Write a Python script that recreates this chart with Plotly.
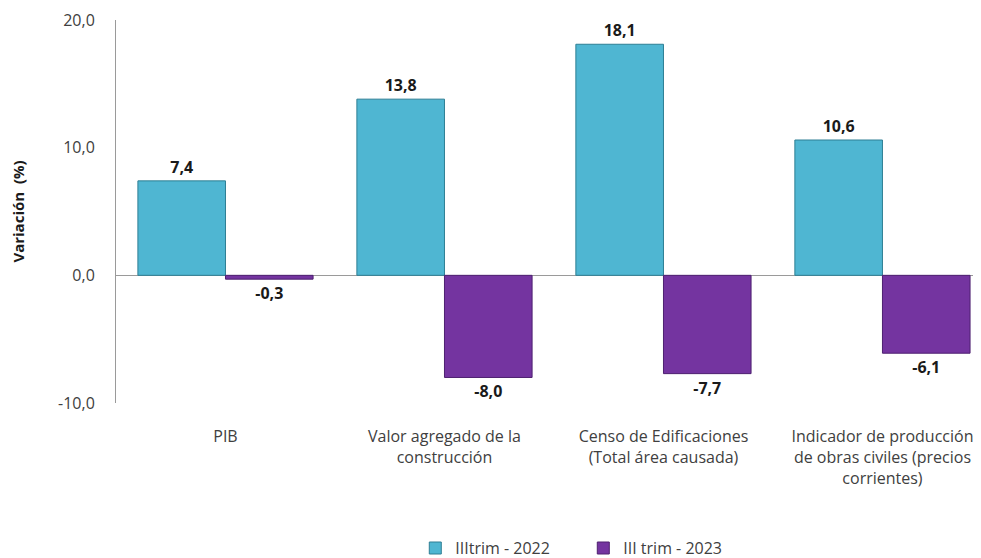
import plotly.graph_objects as go

categories = ["PIB", "Valor agregado de la<br>construcción", "Censo de Edificaciones<br>(Total área causada)",
              "Indicador de producción<br>de obras civiles (precios<br>corrientes)"]
series_names = ["IIItrim - 2022", "III trim - 2023"]
values_2022 = [7.4, 13.8, 18.1, 10.6]
values_2023 = [-0.3, -8.0, -7.7, -6.1]
y_ticks = [-10, 0, 10, 20]
y_tick_text = ["-10,0", "0,0", "10,0", "20,0"]

x = list(range(len(categories)))
font_family = "Open Sans, Noto Sans, sans-serif"

fig = go.Figure()
fig.add_trace(go.Bar(
    x=x, y=values_2022, name=series_names[0],
    marker=dict(color="#4FB6D2", line=dict(color="#2E7F94", width=1)),
    text=[f"{v:.1f}".replace(".", ",") for v in values_2022],
    textposition="outside", cliponaxis=False,
    textfont=dict(family=font_family, size=16, color="#1a1a1a", weight="bold"),
))
fig.add_trace(go.Bar(
    x=x, y=values_2023, name=series_names[1],
    marker=dict(color="#7434A0", line=dict(color="#4E2070", width=1)),
    text=[f"{v:.1f}".replace(".", ",") for v in values_2023],
    textposition="outside", cliponaxis=False,
    textfont=dict(family=font_family, size=16, color="#1a1a1a", weight="bold"),
))

fig.update_layout(
    width=973, height=550,
    margin=dict(l=108, r=0, t=12, b=155),
    paper_bgcolor="white", plot_bgcolor="white",
    barmode="group", bargap=0.2, bargroupgap=0,
    font=dict(family=font_family, size=16, color="#404040"),
    showlegend=True,
    legend=dict(orientation="h", x=0.346, xanchor="left", yref="container", y=0.018, yanchor="middle",
                font=dict(size=16, color="#404040"), itemwidth=30, traceorder="normal",
                entrywidth=123, entrywidthmode="pixels"),
    xaxis=dict(tickmode="array", tickvals=x, ticktext=categories, automargin=False,
               range=[-0.5, 3.45], showgrid=False, showline=False, zeroline=False,
               ticks="outside", ticklen=19, tickcolor="rgba(0,0,0,0)",
               tickfont=dict(size=16)),
    yaxis=dict(range=[-10, 20], tickvals=y_ticks, ticktext=y_tick_text, automargin=False,
               showgrid=False, showline=True, linecolor="#9a9a9a", linewidth=1,
               zeroline=True, zerolinecolor="#9a9a9a", zerolinewidth=1,
               ticks="", ticklen=0, ticklabelstandoff=17, tickfont=dict(size=16),
               title=dict(text="Variación  (%)", font=dict(size=15, color="#1a1a1a", weight="bold"), standoff=42)),
)

fig.write_html("out.html")
